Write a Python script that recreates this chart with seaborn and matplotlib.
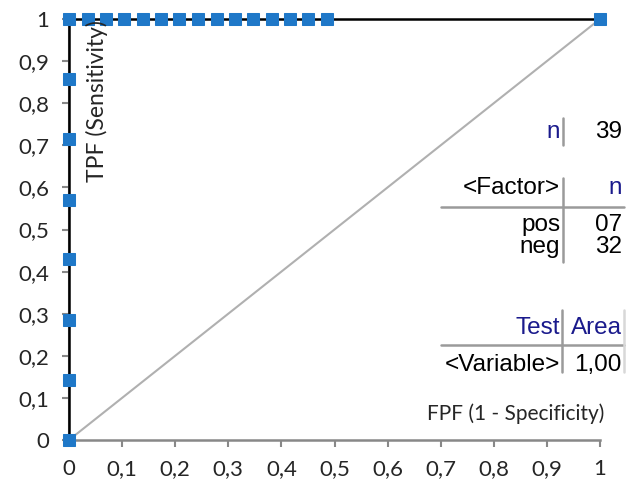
import matplotlib
matplotlib.use("Agg")
import matplotlib.pyplot as plt
import seaborn as sns
import pandas as pd
from matplotlib.ticker import FuncFormatter

# ROC curve points
fpf = [0, 0, 0, 0, 0, 0, 0, 0,
       0.035, 0.07, 0.104, 0.139, 0.174, 0.208, 0.243, 0.278,
       0.313, 0.347, 0.382, 0.417, 0.451, 0.486, 1.0]
tpf = [0, 0.143, 0.286, 0.429, 0.571, 0.714, 0.857, 1,
       1, 1, 1, 1, 1, 1, 1, 1,
       1, 1, 1, 1, 1, 1, 1]
ticks = [0, 0.1, 0.2, 0.3, 0.4, 0.5, 0.6, 0.7, 0.8, 0.9, 1]

n_total = "39"
factor_rows = [("pos", "07"), ("neg", "32")]
area_rows = [("<Variable>", "1,00")]

sns.set_style("white")
plt.rcParams["font.family"] = ["Lato", "DejaVu Sans"]

fig = plt.figure(figsize=(6.37, 4.83), dpi=100)
ax = fig.add_axes([69 / 637, 1 - 440 / 483, 531 / 637, 421 / 483])

roc = pd.DataFrame({"fpf": fpf, "tpf": tpf})
ax.plot([0, 1], [0, 1], color="#b0b0b0", lw=1.5, zorder=1)
sns.lineplot(data=roc, x="fpf", y="tpf", sort=False, estimator=None, ax=ax,
             color="black", lw=1.8, marker="s", markersize=8.5,
             markerfacecolor="#1f78c8", markeredgecolor="#1f78c8",
             clip_on=False, zorder=3)

ax.set_xlim(0, 1)
ax.set_ylim(0, 1)
ax.set_xticks(ticks)
ax.set_yticks(ticks)
fmt = FuncFormatter(lambda v, p: ("%g" % round(v, 1)).replace(".", ","))
ax.xaxis.set_major_formatter(fmt)
ax.yaxis.set_major_formatter(fmt)
ax.tick_params(axis="both", which="major", length=5, width=1.5, color="#888888",
               labelsize=16, direction="out", bottom=True, left=True, pad=9)
for s in ["top", "right"]:
    ax.spines[s].set_visible(False)
ax.spines["bottom"].set_color("#888888")
ax.spines["bottom"].set_linewidth(1.8)
ax.spines["left"].set_color("#888888")
ax.spines["left"].set_linewidth(1.5)
ax.set_xlabel("")
ax.set_ylabel("")

ax.text(0.053, 0.998, "TPF (Sensitivity)", rotation=90, ha="center", va="top", fontsize=16.5)
ax.text(1.009, 0.062, "FPF (1 - Specificity)", ha="right", va="center", fontsize=15)

navy = "#1a1a8c"
tfont = dict(family=["Liberation Sans", "DejaVu Sans"], fontsize=17.5, va="center", ha="right")
lc = "#9a9a9a"
xl, xr = 0.925, 1.041

def vline(x, y0, y1, c=lc):
    ax.plot([x, x], [y0, y1], color=c, lw=1.8, clip_on=False)

def hline(y):
    ax.plot([0.70, 1.045], [y, y], color=lc, lw=1.8, clip_on=False)

# n table
ax.text(xl, 0.732, "n", color=navy, **tfont)
ax.text(xr, 0.732, n_total, color="black", **tfont)
vline(0.930, 0.70, 0.765)

# factor table
ax.text(xl, 0.599, "<Factor>", color="black", **tfont)
ax.text(xr, 0.599, "n", color=navy, **tfont)
hline(0.553)
vline(0.930, 0.423, 0.622)
for i, (lab, val) in enumerate(factor_rows):
    y = 0.510 - i * 0.052
    ax.text(xl, y, lab, color="black", **tfont)
    ax.text(xr, y, val, color="black", **tfont)

# area table
ax.text(xl, 0.266, "Test", color=navy, **tfont)
ax.text(xr, 0.266, "Area", color=navy, **tfont)
hline(0.226)
vline(0.928, 0.162, 0.309)
vline(1.045, 0.162, 0.309, c="#d8d8d8")
for i, (lab, val) in enumerate(area_rows):
    ax.text(xl, 0.178, lab, color="black", **tfont)
    ax.text(xr, 0.178, val, color="black", **tfont)

fig.savefig("out.png", dpi=100)
